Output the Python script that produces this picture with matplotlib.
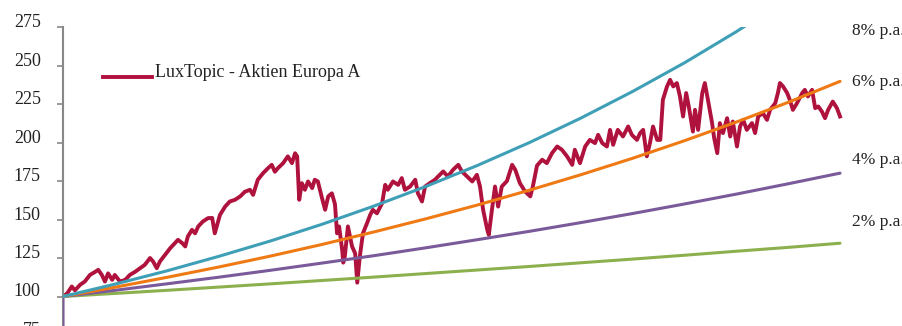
import matplotlib.pyplot as plt
from matplotlib.lines import Line2D

# Fund performance (indexed to 100), time in years since launch
fund_years = [
    0.00, 0.08, 0.17, 0.23, 0.33, 0.42, 0.52, 0.62, 0.68, 0.75, 0.81, 0.87, 0.95, 1.00,
    1.10, 1.20, 1.29, 1.39, 1.49, 1.58, 1.68, 1.74, 1.81, 1.87, 1.97, 2.07, 2.16, 2.22,
    2.30, 2.36, 2.41, 2.49, 2.55, 2.61, 2.70, 2.80, 2.88, 2.93, 3.03, 3.13, 3.22, 3.32,
    3.42, 3.51, 3.61, 3.67, 3.76, 3.86, 3.96, 4.03, 4.09, 4.15, 4.25, 4.34, 4.42, 4.48,
    4.52, 4.56, 4.61, 4.67, 4.73, 4.81, 4.86, 4.92, 5.00, 5.06, 5.12, 5.19, 5.25, 5.29,
    5.33, 5.39, 5.41, 5.44, 5.50, 5.58, 5.64, 5.68, 5.73, 5.79, 5.87, 5.93, 5.98, 6.06,
    6.16, 6.22, 6.27, 6.37, 6.47, 6.54, 6.60, 6.70, 6.80, 6.85, 6.93, 6.99, 7.08, 7.18,
    7.24, 7.34, 7.43, 7.53, 7.63, 7.70, 7.80, 7.90, 7.99, 8.05, 8.11, 8.19, 8.22, 8.28,
    8.34, 8.40, 8.47, 8.57, 8.63, 8.67, 8.73, 8.82, 8.92, 9.02, 9.07, 9.15, 9.25, 9.34,
    9.44, 9.54, 9.63, 9.73, 9.83, 9.88, 9.98, 10.08, 10.17, 10.27, 10.33, 10.41, 10.50,
    10.56, 10.62, 10.71, 10.81, 10.91, 10.98, 11.08, 11.14, 11.20, 11.27, 11.33, 11.39,
    11.47, 11.53, 11.58, 11.66, 11.72, 11.78, 11.85, 11.91, 11.97, 12.03, 12.08, 12.16,
    12.20, 12.26, 12.34, 12.39, 12.45, 12.53, 12.57, 12.63, 12.68, 12.74, 12.82, 12.88,
    12.93, 13.01, 13.07, 13.13, 13.20, 13.30, 13.36, 13.42, 13.51, 13.59, 13.65, 13.75,
    13.80, 13.84, 13.90, 13.98, 14.03, 14.09, 14.17, 14.27, 14.32, 14.38, 14.46, 14.52,
    14.58, 14.65, 14.71, 14.77, 14.86, 14.94, 15.00,
]
fund_values = [
    100.0, 102.0, 106.5, 104.0, 107.6, 109.7, 114.0, 116.0, 117.3, 114.0, 109.7, 115.0, 110.8, 114.0,
    109.7, 110.8, 114.0, 116.0, 118.4, 120.6, 125.0, 122.7, 118.4, 122.7, 127.0, 131.4, 134.7, 136.8,
    134.7, 132.5, 139.0, 143.3, 141.0, 145.5, 148.7, 150.9, 151.0, 141.0, 153.0, 158.4, 161.7, 162.8,
    165.0, 168.0, 169.3, 166.0, 175.8, 180.0, 183.4, 185.5, 181.0, 183.4, 186.6, 191.0, 186.6, 193.0,
    191.0, 162.8, 173.6, 169.3, 174.7, 170.4, 175.8, 174.7, 163.9, 156.3, 165.0, 167.0, 160.0, 141.0,
    145.5, 130.0, 122.0, 126.0, 145.5, 132.5, 128.0, 109.0, 126.0, 141.0, 147.7, 153.0, 156.3, 154.0,
    160.6, 172.5, 169.3, 174.7, 172.5, 176.9, 169.3, 171.4, 175.8, 167.1, 161.7, 171.4, 173.6, 175.8,
    177.9, 181.2, 177.9, 182.3, 185.5, 181.2, 177.9, 174.7, 179.0, 171.4, 156.3, 143.3, 140.0, 156.3,
    171.4, 158.4, 171.4, 175.0, 181.2, 185.5, 182.3, 173.6, 168.2, 165.0, 171.4, 185.0, 188.8, 186.6,
    193.1, 197.4, 195.3, 191.0, 185.5, 195.3, 186.6, 197.4, 201.7, 199.6, 205.0, 199.6, 197.4,
    208.2, 198.5, 208.2, 203.9, 210.4, 205.0, 201.7, 206.1, 208.2, 191.0, 199.6, 210.4,
    201.7, 201.7, 227.7, 236.4, 240.7, 236.4, 238.6, 229.9, 216.9, 232.1, 223.4, 207.1,
    221.2, 208.2, 232.1, 238.6, 227.7, 212.6, 202.9, 193.1, 212.6, 206.1, 215.8, 203.9,
    213.6, 197.4, 210.4, 214.7, 208.2, 212.6, 206.1, 216.9, 219.1, 214.7, 221.2, 225.6,
    232.1, 238.6, 236.4, 232.1, 227.7, 221.2, 225.6, 232.1, 234.2, 229.9, 234.2, 222.3,
    223.4, 220.1, 215.8, 221.2, 226.6, 222.3, 216.9,
]

# Benchmark growth paths, value at the end of each year
bench_years = list(range(16))
growth_2 = [100, 102.0, 104.0, 106.1, 108.2, 110.4, 112.6, 114.9, 117.2, 119.5, 121.9, 124.3, 126.8, 129.4, 131.9, 134.6]
growth_4 = [100, 104.0, 108.2, 112.5, 117.0, 121.7, 126.5, 131.6, 136.9, 142.3, 148.0, 153.9, 160.1, 166.5, 173.2, 180.1]
growth_6 = [100, 106.0, 112.4, 119.1, 126.2, 133.8, 141.9, 150.4, 159.4, 169.0, 179.1, 189.8, 201.2, 213.3, 226.1, 239.7]
growth_8 = [100, 108.0, 116.6, 126.0, 136.0, 146.9, 158.7, 171.4, 185.1, 199.9, 215.9, 233.2, 251.8, 272.0, 293.7, 317.2]

# the 4% series in the original starts from an empty (zero) cell, giving a vertical stroke at launch
growth_4_years = [0] + bench_years
growth_4_full = [0] + growth_4

bench_labels = ['2% p.a.', '4% p.a.', '6% p.a.', '8% p.a.']
bench_colors = ['#8DB04E', '#7A5A9A', '#EF7A14', '#3E9FB6']
fund_label = 'LuxTopic - Aktien Europa A'
fund_color = '#B0123E'

plt.rcParams['font.family'] = ['Liberation Serif', 'DejaVu Serif']

W, H = 903, 326
fig = plt.figure(figsize=(W / 100, H / 100), dpi=100)

# Axes placed so that 275 sits near the top and 75 falls just below the frame
x0, x1 = 63, 850.4
y_top, y_bot = 27, 335
ax = fig.add_axes([x0 / W, 1 - y_bot / H, (x1 - x0) / W, (y_bot - y_top) / H])

ax.plot(fund_years, fund_values, color=fund_color, lw=2.8, solid_joinstyle='round', zorder=2)
series = [(bench_years, growth_2), (growth_4_years, growth_4_full),
          (bench_years, growth_6), (bench_years, growth_8)]
for (xs, vals), col in zip(series, bench_colors):
    ax.plot(xs, vals, color=col, lw=2.2, solid_capstyle='round', zorder=3)

ax.set_xlim(0, 15.2)
ax.set_ylim(75, 275)
ax.set_yticks(range(75, 276, 25))
ax.tick_params(axis='y', direction='out', length=4, width=1.2, color='#888888',
               labelsize=13, pad=12, labelcolor='#222222')
for lbl in ax.get_yticklabels():
    lbl.set_va('baseline')
ax.set_xticks([])

for side in ['top', 'right', 'bottom']:
    ax.spines[side].set_visible(False)
ax.spines['left'].set_color('#888888')
ax.spines['left'].set_linewidth(1.5)

# Legend drawn by hand
fig.add_artist(Line2D([103 / W, 152 / W], [1 - 77 / H, 1 - 77 / H], color=fund_color, lw=2.8))
fig.text(155 / W, 1 - 77 / H, fund_label, fontsize=13, va='baseline', ha='left', color='#222222')

# Labels for the growth paths on the right
label_y = [222, 160, 82, 31]
for lab, yy in zip(bench_labels, label_y):
    fig.text(852 / W, 1 - yy / H, lab, fontsize=12.5, va='center', ha='left', color='#222222')

fig.savefig('out.png', dpi=100)
